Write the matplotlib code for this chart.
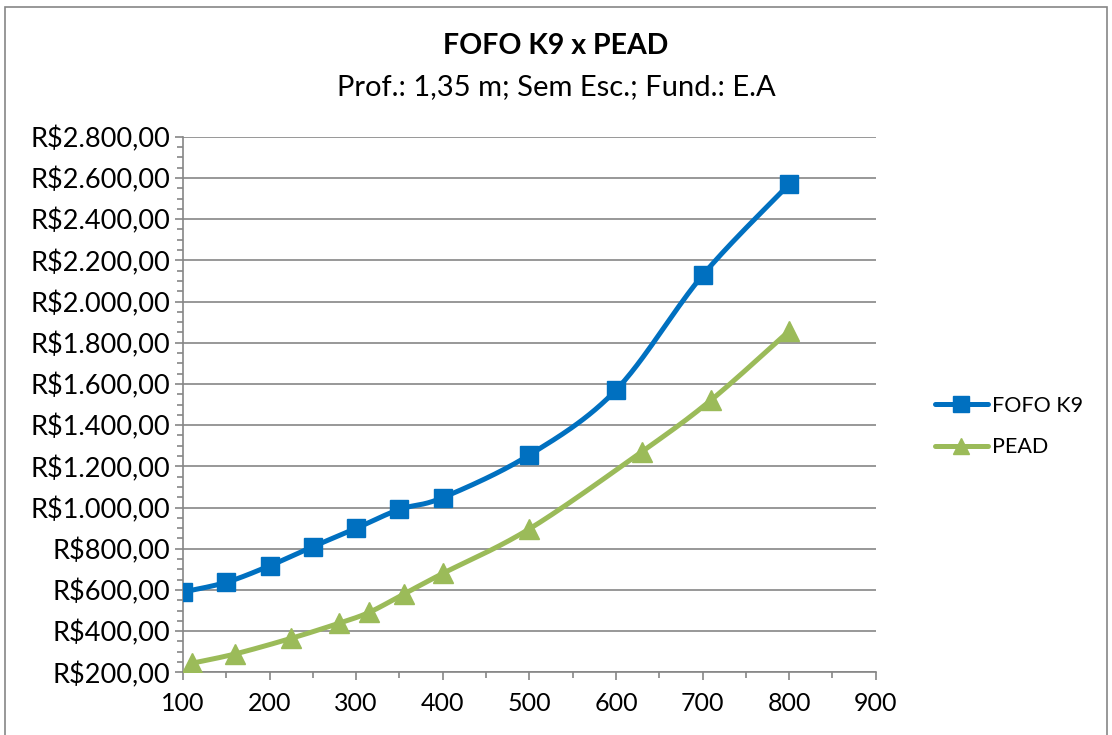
import numpy as np
import matplotlib
matplotlib.use("Agg")
import matplotlib.pyplot as plt
from matplotlib.ticker import FuncFormatter, MultipleLocator
from matplotlib.patches import Rectangle
from matplotlib.lines import Line2D

# dados
fofo_x = [100, 150, 200, 250, 300, 350, 400, 500, 600, 700, 800]
fofo_y = [590, 637, 717, 810, 899, 991, 1048, 1255, 1570, 2127, 2569]
pead_x = [110, 160, 225, 280, 315, 355, 400, 500, 630, 710, 800]
pead_y = [244, 289, 365, 438, 491, 580, 680, 896, 1271, 1522, 1857]

titulo = "FOFO K9 x PEAD"
subtitulo = "Prof.: 1,35 m; Sem Esc.; Fund.: E.A"

AZUL = "#0070C0"
VERDE = "#9BBB59"
CINZA = "#868686"

plt.rcParams["font.family"] = ["Lato", "DejaVu Sans"]


def suaviza(x, y, n=30):
    # curva tipo "linha suavizada" do Excel (Catmull-Rom)
    p = np.column_stack([x, y]).astype(float)
    p = np.vstack([p[0], p, p[-1]])
    out = []
    t = np.linspace(0, 1, n)[:, None]
    for i in range(1, len(p) - 2):
        p0, p1, p2, p3 = p[i - 1], p[i], p[i + 1], p[i + 2]
        seg = 0.5 * ((2 * p1) + (-p0 + p2) * t + (2 * p0 - 5 * p1 + 4 * p2 - p3) * t ** 2
                     + (-p0 + 3 * p1 - 3 * p2 + p3) * t ** 3)
        out.append(seg)
    out = np.vstack(out)
    return out[:, 0], out[:, 1]


def reais(v, pos):
    s = f"{v:,.2f}".replace(",", "X").replace(".", ",").replace("X", ".")
    return "R$" + s


fig = plt.figure(figsize=(11.12, 7.35), dpi=100)
ax = fig.add_axes([0.1646, 0.0853, 0.6229, 0.7287])

sx, sy = suaviza(fofo_x, fofo_y)
ax.plot(sx, sy, color=AZUL, lw=3.6, solid_capstyle="round", zorder=3)
ax.plot(fofo_x, fofo_y, ls="none", marker="s", ms=13.5, color=AZUL, zorder=4)
sx, sy = suaviza(pead_x, pead_y)
ax.plot(sx, sy, color=VERDE, lw=3.6, solid_capstyle="round", zorder=3)
ax.plot(pead_x, pead_y, ls="none", marker="^", ms=15, color=VERDE, zorder=4)

ax.set_xlim(100, 900)
ax.set_ylim(200, 2800)
ax.xaxis.set_major_locator(MultipleLocator(100))
ax.xaxis.set_minor_locator(MultipleLocator(50))
ax.yaxis.set_major_locator(MultipleLocator(200))
ax.yaxis.set_minor_locator(MultipleLocator(50))
ax.yaxis.set_major_formatter(FuncFormatter(reais))

ax.grid(axis="y", which="major", color=CINZA, lw=1.2)
ax.set_axisbelow(True)
for lado in ["top", "right"]:
    ax.spines[lado].set_visible(False)
for lado in ["left", "bottom"]:
    ax.spines[lado].set_color(CINZA)
    ax.spines[lado].set_linewidth(1.2)
ax.tick_params(which="major", length=6, width=1.2, color=CINZA)
ax.tick_params(axis="y", which="major", pad=3, labelsize=19.5)
ax.tick_params(axis="x", which="major", pad=8, labelsize=18)
ax.tick_params(which="minor", length=4, width=1.2, color=CINZA)

# legenda
h1 = Line2D([], [], color=AZUL, lw=3.6, marker="s", ms=11, solid_capstyle="round")
h2 = Line2D([], [], color=VERDE, lw=3.6, marker="^", ms=12, solid_capstyle="round")
fig.legend([h1, h2], ["FOFO K9", "PEAD"], loc="center left",
           bbox_to_anchor=(0.823, 0.42), frameon=False, fontsize=15.5,
           handlelength=2.5, handletextpad=0.15, labelspacing=1.0)

fig.text(0.5, 0.938, titulo, ha="center", va="center", fontsize=20.5, fontweight="bold")
fig.text(0.5, 0.881, subtitulo, ha="center", va="center", fontsize=21)

fig.patches.append(Rectangle((5 / 1112, -0.01), 1102 / 1112, 1.0, transform=fig.transFigure,
                             fill=False, edgecolor=CINZA, lw=1.2))

fig.savefig("out.png", dpi=100)
